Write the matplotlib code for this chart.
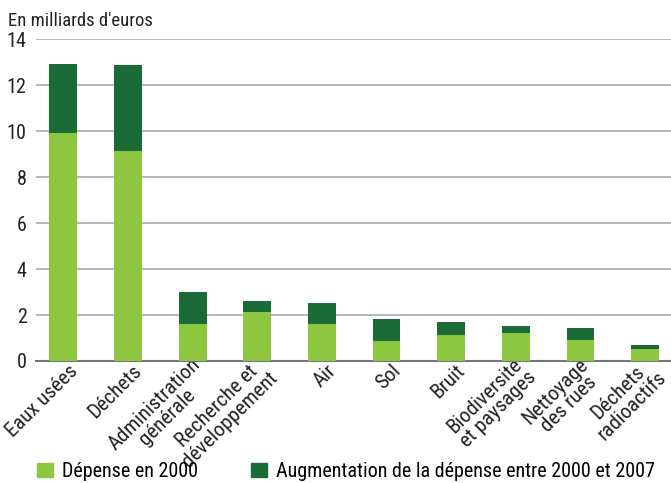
import matplotlib.pyplot as plt
from matplotlib import font_manager
from matplotlib.patches import Patch
from matplotlib.transforms import ScaledTranslation

categories = ["Eaux usées", "Déchets", "Administration\ngénérale", "Recherche et\ndéveloppement",
              "Air", "Sol", "Bruit", "Biodiversité\net paysages", "Nettoyage\ndes rues",
              "Déchets\nradioactifs"]
spend_2000 = [9.9, 9.15, 1.6, 2.15, 1.6, 0.88, 1.13, 1.22, 0.92, 0.53]
increase = [3.02, 3.72, 1.42, 0.47, 0.94, 0.95, 0.57, 0.3, 0.52, 0.18]
yticks = [0, 2, 4, 6, 8, 10, 12, 14]

light = "#8dc63f"
dark = "#1a6b38"

# pick a narrow font if one is around
available = {f.name for f in font_manager.fontManager.ttflist}
font = 'DejaVu Sans'
for name in ['Roboto Condensed', 'Liberation Sans Narrow', 'Open Sans Condensed', 'Lato']:
    if name in available:
        font = name
        break
plt.rcParams['font.family'] = [font, 'DejaVu Sans']

fig = plt.figure(figsize=(6.71, 4.83), dpi=100)
ax = fig.add_axes([0.054, 0.2526, 0.946, 0.6664])

x = range(len(categories))
ax.bar(x, spend_2000, width=0.43, color=light, zorder=3)
ax.bar(x, increase, bottom=spend_2000, width=0.43, color=dark, zorder=3)

ax.set_xlim(-0.42, 9.4)
ax.set_ylim(0, 14)
ax.set_yticks(yticks)
ax.yaxis.grid(True, color="#aaaaaa", linewidth=1.2, zorder=0)
ax.tick_params(axis='y', length=0, labelsize=14.5, pad=7, colors="#222222")
ax.tick_params(axis='x', length=0, pad=5)
ax.set_xticks(list(x))
ax.set_xticklabels(categories, rotation=45, ha='right', va='center', rotation_mode='anchor',
                   fontsize=15, multialignment='center', color="#222222",
                   linespacing=1.0)
shift = ScaledTranslation(11 / 100, 0, fig.dpi_scale_trans)
for lab in ax.get_xticklabels():
    lab.set_transform(lab.get_transform() + shift)
for s in ['top', 'right', 'left']:
    ax.spines[s].set_visible(False)
ax.spines['bottom'].set_color("#777777")
ax.spines['bottom'].set_linewidth(1.5)

fig.text(0.012, 0.946, "En milliards d'euros", fontsize=13.5, color="#222222", va='baseline')

handles = [Patch(color=light), Patch(color=dark)]
fig.legend(handles, ["Dépense en 2000", "Augmentation de la dépense entre 2000 et 2007"],
           loc='center left', bbox_to_anchor=(37 / 671, 0.024), ncol=2, frameon=False,
           fontsize=14.5, handlelength=0.8, handleheight=0.75, handletextpad=0.45,
           columnspacing=2.6, borderpad=0, borderaxespad=0)

fig.savefig("out.png", dpi=100)
